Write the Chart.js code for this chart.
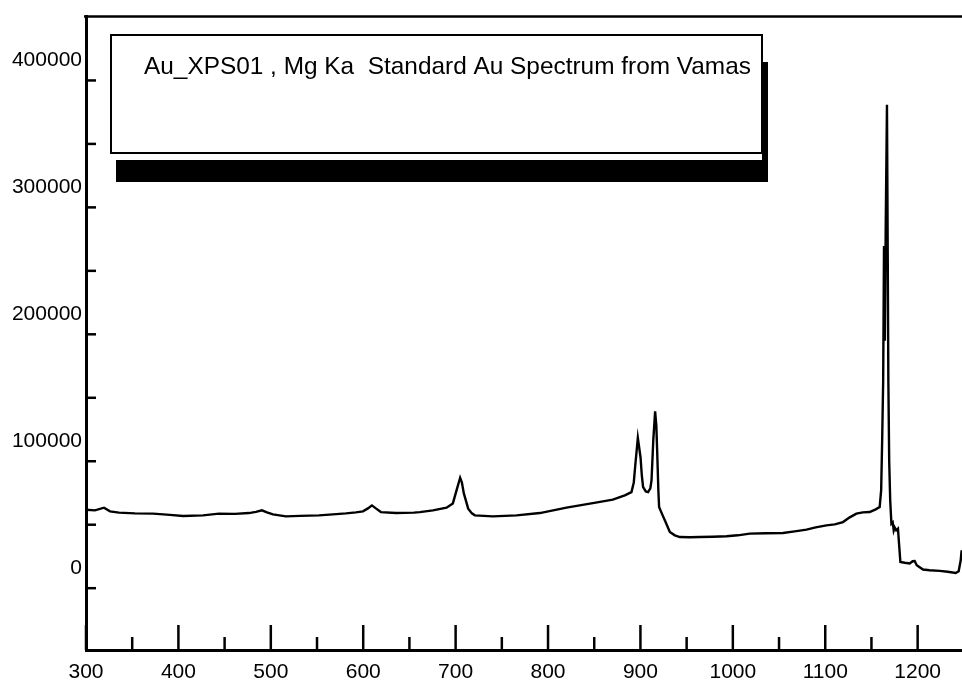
<!DOCTYPE html>
<html><head><meta charset="utf-8">
<script src="https://cdn.jsdelivr.net/npm/chart.js@4.4.1/dist/chart.umd.min.js"></script>
<style>html,body{margin:0;padding:0;background:#fff;}canvas{display:block;}</style>
</head><body>
<canvas id="c" width="962" height="691"></canvas>
<script>
// Kinetic energy (eV) and counts
const energy = [300,309.7,319.5,326,335.7,353,372.5,390.9,404.9,426.6,443.9,461.2,476.3,483.9,490.4,495.8,502.3,516.4,531.5,552.1,567.2,581.3,592.1,599.7,605.1,609.4,613.7,619.1,635.4,654.8,
661.3,675.4,690.2,697.0,701.0,704.9,706.8,708.9,713.6,717.6,720.8,740.3,765.9,791.1,820.0,848.5,870.1,883.1,890.3,892.8,894.4,897.2,900.1,901.5,902.9,905.8,908.3,910.7,912.0,913.9,915.9,917.2,918.1,919.4,920.2,923.1,926.4,931.8,937.2,942.6,
953.4,964.2,978.3,993.1,1005.3,1018.3,1035.6,1054.3,1067.0,1079.7,1089.7,1101.3,1110.3,1119.2,1126.5,1133.7,1140.6,1148.1,1154.6,1158.9,1160.5,1161.6,1162.7,1163.6,1164.5,1165.4,1166.8,1167.6,1168.3,1169.2,1170.3,1171.6,1173.0,1174.1,1175.1,1176.8,1178.7,1180.0,1181.3,1186.0,1191.4,1194.6,1196.8,1199.0,1205.8,1213.0,1223.9,1232.5,1241.2,1244.4,1246.6,1247.6];
const counts = [61850,61300,63420,60510,59490,58940,58700,57760,56820,57370,58700,58550,59180,60120,61300,59730,58150,56580,56970,57370,58150,58940,59730,60510,62870,65230,62870,59960,59180,59490,
59960,61300,63420,66800,77010,86990,83300,74660,62630,58940,57370,56580,57370,59180,63420,67030,69710,73080,75680,83300,96660,118430,103180,88800,79610,76230,75680,78580,84870,116310,139330,128090,108450,77010,63890,58940,53440,44240,41650,40310,
40080,40310,40470,40860,41650,42990,43220,43460,44790,46130,47940,49510,50290,52100,55800,58700,59730,59960,62080,63890,77010,116310,163460,269550,194890,281330,380900,265620,163460,100590,69160,50840,51870,45580,47940,45580,46920,33790,20670,20040,19410,21220,21450,18070,14700,14150,13600,12970,12020,13360,22000,29860];
const xTickValues = [300,350,400,450,500,550,600,650,700,750,800,850,900,950,1000,1050,1100,1150,1200];
const yTickValues = [0,50000,100000,150000,200000,250000,300000,350000,400000];
const legendText = "Au_XPS01 , Mg Ka  Standard Au Spectrum from Vamas";

const points = energy.map((e, i) => ({x: e, y: counts[i]}));

const framePlugin = {
  id: 'frame',
  afterDraw(chart) {
    const {ctx, chartArea: a, scales: {x, y}} = chart;
    ctx.save();
    ctx.strokeStyle = '#000';
    ctx.fillStyle = '#000';
    ctx.lineWidth = 2.5;
    ctx.beginPath(); ctx.moveTo(a.left - 2, a.top); ctx.lineTo(a.right, a.top); ctx.stroke();
    yTickValues.forEach(v => {
      const py = y.getPixelForValue(v);
      ctx.beginPath(); ctx.moveTo(a.left, py); ctx.lineTo(a.left + 10, py); ctx.stroke();
    });
    xTickValues.forEach(v => {
      const px = x.getPixelForValue(v);
      const len = v % 100 === 0 ? 25 : 13;
      ctx.beginPath(); ctx.moveTo(px, a.bottom); ctx.lineTo(px, a.bottom - len); ctx.stroke();
    });
    // legend box with shadow
    ctx.fillRect(116, 160, 651, 22);
    ctx.fillRect(762, 62, 6, 120);
    ctx.fillStyle = '#fff';
    ctx.fillRect(111, 35, 651, 118);
    ctx.lineWidth = 2;
    ctx.strokeRect(111, 35, 651, 118);
    ctx.fillStyle = '#000';
    ctx.font = '24.4px "Liberation Sans", Arial, sans-serif';
    ctx.textBaseline = 'alphabetic';
    ctx.textAlign = 'left';
    ctx.fillText(legendText, 144, 74);
    ctx.restore();
  }
};

new Chart(document.getElementById('c'), {
  type: 'line',
  data: {
    datasets: [{
      data: points,
      borderColor: '#000',
      borderWidth: 2.4,
      pointRadius: 0,
      tension: 0,
      fill: false
    }]
  },
  options: {
    responsive: false,
    animation: false,
    devicePixelRatio: 1,
    layout: {padding: {top: 15, right: 0, left: 0, bottom: 0}},
    plugins: {legend: {display: false}, tooltip: {enabled: false}, title: {display: false}},
    scales: {
      x: {
        type: 'linear',
        min: 300, max: 1248,
        afterBuildTicks: s => { s.ticks = xTickValues.map(v => ({value: v})); },
        afterFit: s => { s.height = 41; },
        grid: {display: false, drawTicks: false},
        border: {display: true, color: '#000', width: 3},
        ticks: {
          autoSkip: false, maxRotation: 0, padding: 10,
          color: '#000',
          font: {family: '"Liberation Sans", Arial, sans-serif', size: 21},
          callback: v => (v % 100 === 0 ? String(v) : '')
        }
      },
      y: {
        type: 'linear',
        min: -48700, max: 450300,
        afterBuildTicks: s => { s.ticks = yTickValues.map(v => ({value: v})); },
        afterFit: s => { s.width = 86; },
        grid: {display: false, drawTicks: false},
        border: {display: true, color: '#000', width: 3},
        ticks: {
          autoSkip: false, padding: 4, labelOffset: -20,
          color: '#000',
          font: {family: '"Liberation Sans", Arial, sans-serif', size: 21},
          callback: v => (v % 100000 === 0 ? String(v) : '')
        }
      }
    }
  },
  plugins: [framePlugin]
});
</script>
</body></html>
